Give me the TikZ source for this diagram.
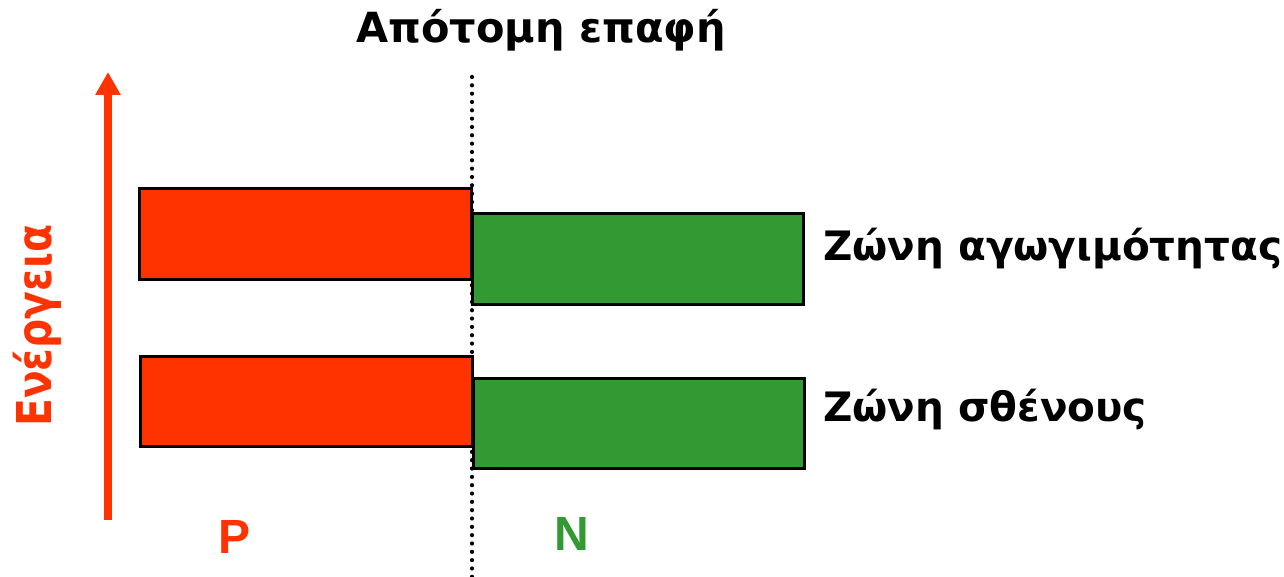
\documentclass[tikz,border=0pt]{standalone}
\usepackage{fontspec}
\setmainfont{DejaVu Sans}
\newfontfamily\arialfont{Liberation Sans}
\usetikzlibrary{arrows.meta}
\definecolor{pred}{HTML}{FF3300}
\definecolor{ngreen}{HTML}{339933}
\begin{document}
\begin{tikzpicture}[x=1pt,y=-1pt,
  band/.style={draw=black,line width=3pt,inner sep=0pt,outer sep=0pt,anchor=north west,minimum width=332pt,minimum height=90pt},
  lbl/.style={anchor=base west,inner sep=0pt,font=\fontsize{40.5}{42}\selectfont\bfseries},
  side/.style={anchor=base west,inner sep=0pt,font=\arialfont\fontsize{48}{50}\selectfont\bfseries}]
\useasboundingbox[fill=white] (0,0) rectangle (1284,577);
% dotted junction line
\coordinate (dtop) at (472,77);
\coordinate (dbot) at (472,577);
\draw[line width=4.2pt,line cap=round,dash pattern=on 0pt off 8.33pt] (dtop) -- (dbot);
% bands
\node[band,fill=pred] (pc) at (139,189) {};
\node[band,fill=pred] (pv) at (140,356) {};
\node[band,fill=ngreen,minimum width=331pt] (nc) at (472,214) {};
\node[band,fill=ngreen,minimum width=331pt] (nv) at (473,378) {};
% energy arrow
\coordinate (abot) at (108,520);
\coordinate (atop) at (108,72);
\draw[pred,line width=8.5pt,-{Triangle[width=24pt,length=23pt]}] (abot) -- (atop);
\node[rotate=90,anchor=base west,inner sep=0pt,text=pred,font=\fontsize{48}{50}\selectfont\bfseries] (en) at (51,427) {\scalebox{0.85}[1]{Ενέργεια}};
% texts
\node[anchor=base,inner sep=0pt,font=\fontsize{41.5}{44}\selectfont\bfseries] (title) at (541,43) {Απότομη επαφή};
\node[lbl] (cb) at (823,261) {Ζώνη αγωγιμότητας};
\node[lbl] (vb) at (823,421) {Ζώνη σθένους};
\node[side,text=pred] (P) at (218,553) {P};
\node[side,text=ngreen] (N) at (554,550) {N};
\end{tikzpicture}
\end{document}
